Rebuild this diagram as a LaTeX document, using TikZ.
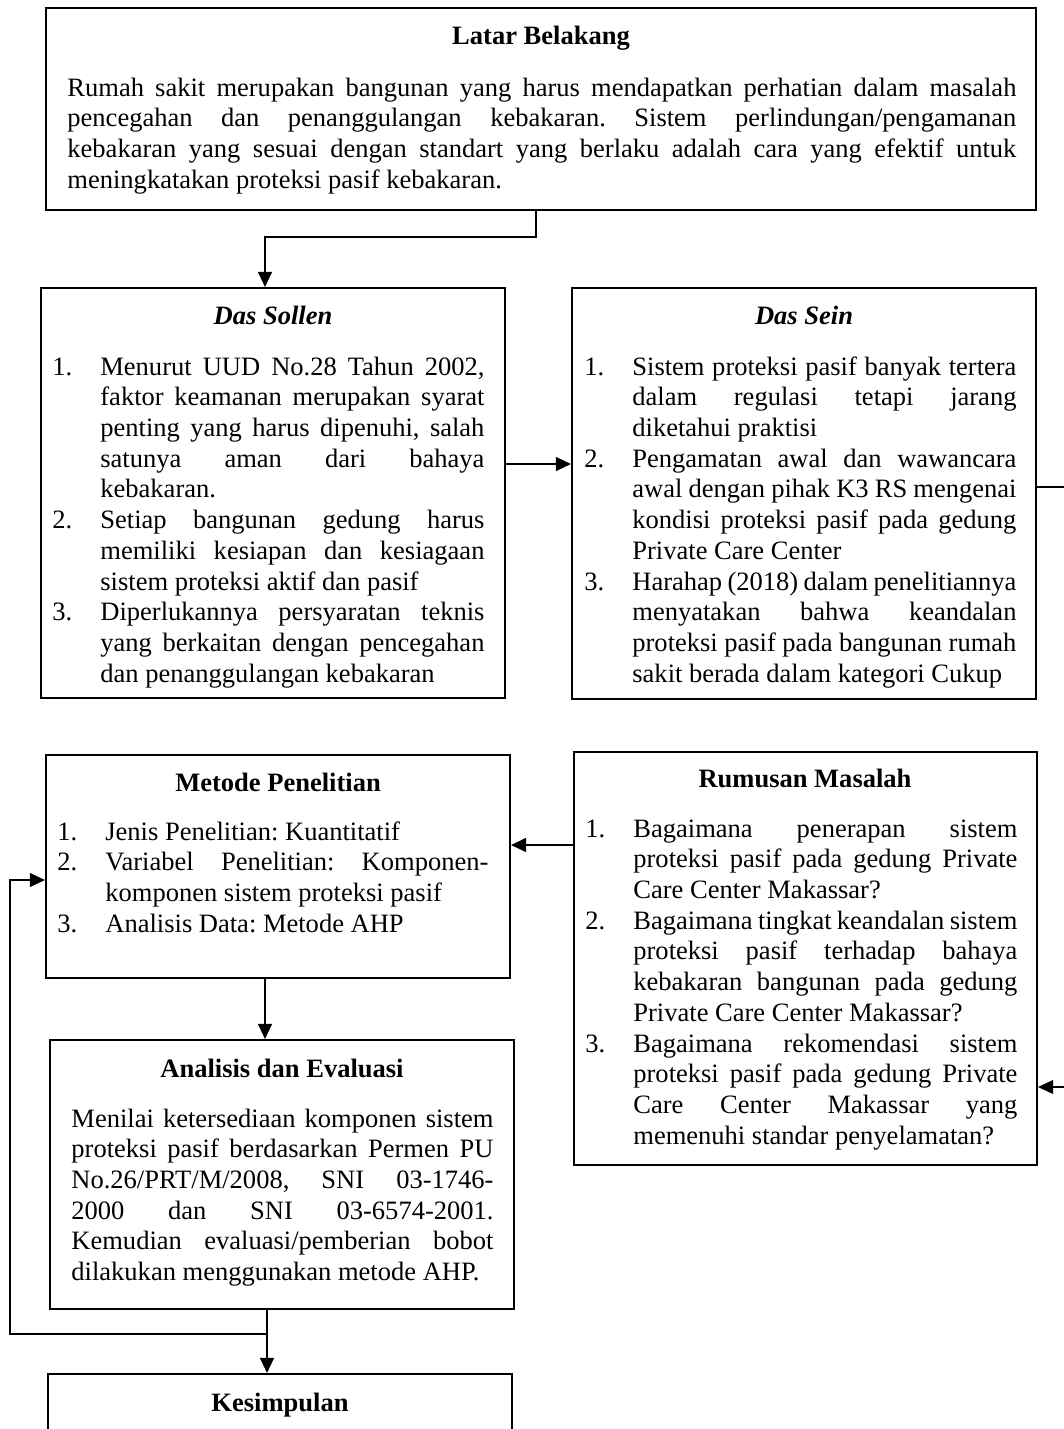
\documentclass[tikz,border=0pt]{standalone}
\usepackage{fontspec}
\setmainfont{Liberation Serif}
\usetikzlibrary{arrows.meta,fit}

\tolerance=10000
\hyphenpenalty=10000
\frenchspacing

\newcommand{\numw}{21.7pt} % width of the item numbers
\newcommand{\nitem}[2]{\hangindent=\numw\hangafter=1\noindent\makebox[\numw][l]{#1}#2\par}

\tikzset{
	frame/.style={draw, line width=0.9pt, inner sep=0pt},
	title/.style={anchor=base, inner sep=0pt, font=\bfseries\fontsize{12}{13.9}\selectfont},
	body/.style={anchor=base west, inner sep=0pt, text width=#1, align=justify,
		font=\fontsize{12}{13.9}\selectfont},
	conn/.style={line width=0.9pt, -{Triangle[length=6.8pt,width=6.2pt]}},
	backline/.style={line width=0.6pt, -{Triangle[length=6.8pt,width=6.2pt]}}
}

\begin{document}
\begin{tikzpicture}[x=0.4525pt, y=-0.4525pt]
	\useasboundingbox (0,0) rectangle (1064,1429);
	\clip (0,0) rectangle (1064,1429);

	% frames
	\node[frame, fit={(46,8) (1036,210)}] (latar) {};
	\node[frame, fit={(41,288) (505,698)}] (sollen) {};
	\node[frame, fit={(572,288) (1036,699)}] (sein) {};
	\node[frame, fit={(46,755) (510,978)}] (metode) {};
	\node[frame, fit={(574,752) (1037,1165)}] (rumusan) {};
	\node[frame, fit={(50,1040) (514,1309)}] (analisis) {};
	\node[frame, fit={(48,1374) (512,1470)}] (kesimpulan) {};

	% titles
	\node[title] (latarT) at (541,44) {Latar Belakang};
	\node[title] (sollenT) at (273,324) {\itshape Das Sollen};
	\node[title] (seinT) at (804,324) {\itshape Das Sein};
	\node[title] (metodeT) at (278,791) {Metode Penelitian};
	\node[title] (rumusanT) at (805,787) {Rumusan Masalah};
	\node[title] (analisisT) at (282,1077) {Analisis dan Evaluasi};
	\node[title] (kesimpulanT) at (280,1411) {Kesimpulan};

	% texts
	\node[body=429.4pt] (latarB) at (67,96) {Rumah sakit merupakan bangunan yang harus mendapatkan perhatian dalam masalah\linebreak
		pencegahan dan penanggulangan kebakaran. Sistem perlindungan/pengamanan\linebreak
		kebakaran yang sesuai dengan standart yang berlaku adalah cara yang efektif untuk\linebreak
		meningkatakan proteksi pasif kebakaran.};

	\node[body=195.5pt] (sollenL) at (52,375) {%
		\nitem{1.}{Menurut UUD No.28 Tahun 2002,\linebreak faktor keamanan merupakan syarat\linebreak
			penting yang harus dipenuhi, salah\linebreak satunya aman dari bahaya\linebreak kebakaran.}
		\nitem{2.}{Setiap bangunan gedung harus\linebreak memiliki kesiapan dan kesiagaan\linebreak
			sistem proteksi aktif dan pasif}
		\nitem{3.}{Diperlukannya persyaratan teknis\linebreak yang berkaitan dengan pencegahan\linebreak
			dan penanggulangan kebakaran}};

	\node[body=195.5pt] (seinL) at (584,375) {%
		\nitem{1.}{Sistem proteksi pasif banyak tertera\linebreak dalam regulasi tetapi jarang\linebreak
			diketahui praktisi}
		\nitem{2.}{Pengamatan awal dan wawancara\linebreak awal dengan pihak K3 RS mengenai\linebreak
			kondisi proteksi pasif pada gedung\linebreak Private Care Center}
		\nitem{3.}{Harahap (2018) dalam penelitiannya\linebreak menyatakan bahwa keandalan\linebreak
			proteksi pasif pada bangunan rumah\linebreak sakit berada dalam kategori Cukup}};

	\node[body=195pt] (metodeL) at (57,840) {%
		\nitem{1.}{Jenis Penelitian: Kuantitatif}
		\nitem{2.}{Variabel Penelitian: Komponen-\linebreak komponen sistem proteksi pasif}
		\nitem{3.}{Analisis Data: Metode AHP}};

	\node[body=195.5pt] (rumusanL) at (585,837) {%
		\nitem{1.}{Bagaimana penerapan sistem\linebreak proteksi pasif pada gedung Private\linebreak
			Care Center Makassar?}
		\nitem{2.}{Bagaimana tingkat keandalan sistem\linebreak proteksi pasif terhadap bahaya\linebreak
			kebakaran bangunan pada gedung\linebreak Private Care Center Makassar?}
		\nitem{3.}{Bagaimana rekomendasi sistem\linebreak proteksi pasif pada gedung Private\linebreak
			Care Center Makassar yang\linebreak memenuhi standar penyelamatan?}};

	\node[body=191pt] (analisisB) at (71,1127) {Menilai ketersediaan komponen sistem\linebreak
		proteksi pasif berdasarkan Permen PU\linebreak No.26/PRT/M/2008, SNI 03-1746-\linebreak
		2000 dan SNI 03-6574-2001.\linebreak Kemudian evaluasi/pemberian bobot\linebreak
		dilakukan menggunakan metode AHP.};

	% bends
	\coordinate (b1) at (536,237);
	\coordinate (b2) at (265,237);
	\coordinate (h1) at (0,464);
	\coordinate (h2) at (1080,487);
	\coordinate (h3) at (1080,1087);
	\coordinate (h4) at (0,845);
	\coordinate (v1) at (265,0);
	\coordinate (jn) at (267,1334);
	\coordinate (fl) at (10,1334);
	\coordinate (ft) at (10,880);

	% arrows
	\draw[conn] (latar.south -| b1) -- (b1) -- (b2) -- (sollen.north -| b2);
	\draw[conn] (sollen.east |- h1) -- (sein.west |- h1);
	\draw[backline] (sein.east |- h2) -- (h2) -- (h3) -- (rumusan.east |- h3);
	\draw[conn] (rumusan.west |- h4) -- (metode.east |- h4);
	\draw[conn] (metode.south -| v1) -- (analisis.north -| v1);
	\draw[conn] (analisis.south -| jn) -- (kesimpulan.north -| jn);
	\draw[backline] (jn) -- (fl) -- (ft) -- (metode.west |- ft);
\end{tikzpicture}
\end{document}
